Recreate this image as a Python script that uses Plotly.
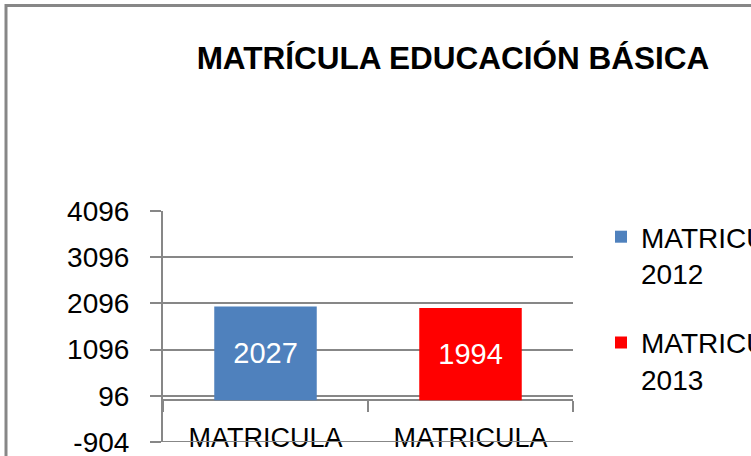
import plotly.graph_objects as go

# ---- data ----
categories = ["MATRICULA<br>2012", "MATRICULA<br>2013"]
series_names = ["MATRICULA<br>2012", "MATRICULA<br>2013"]
values = [2027, 1994]
colors = ["#4F81BD", "#FF0000"]
y_ticks = [-904, 96, 1096, 2096, 3096, 4096]
title_text = "MATRÍCULA EDUCACIÓN BÁSICA"

FONT = "Liberation Sans"
GRAY = "#878787"
W, H = 751, 456
ML, MR, MT, MB = 163, 178, 211, 14
ymin, ymax = y_ticks[0], y_ticks[-1]

fig = go.Figure()
for i in range(len(values)):
    fig.add_trace(go.Bar(
        x=[categories[i]], y=[values[i]], name=series_names[i],
        marker=dict(color=colors[i], line=dict(width=0)),
        width=0.5,
        text=[values[i]], textposition="inside", insidetextanchor="middle",
        textangle=0, constraintext="none",
        textfont=dict(family=FONT, size=29, color="white"),
        legendgroup=f"g{i}",
    ))

plot_h = H - MT - MB
plot_w = W - ML - MR
zero_pos = (0 - ymin) / (ymax - ymin)

fig.update_layout(
    width=W, height=H,
    margin=dict(l=ML, r=MR, t=MT, b=MB, autoexpand=False),
    paper_bgcolor="white", plot_bgcolor="white",
    barmode="overlay",
    font=dict(family=FONT, size=28, color="black"),
    title=dict(text=title_text, x=453 / W, xanchor="center", xref="container",
               y=1 - 58 / H, yanchor="middle", yref="container",
               font=dict(family=FONT, size=31.5, color="black", weight="bold")),
    showlegend=True,
    legend=dict(x=601 / W, xanchor="left", xref="container",
                y=1 - 212 / H, yanchor="top", yref="container",
                traceorder="grouped", tracegroupgap=30, valign="top",
                font=dict(family=FONT, size=28, color="black"),
                bgcolor="rgba(0,0,0,0)"),
    xaxis=dict(
        anchor="free", position=zero_pos,
        range=[-0.5, 1.5], type="category",
        showline=False,
        ticks="outside", tickson="boundaries", ticklen=11, tickwidth=2, tickcolor=GRAY,
        showgrid=False, zeroline=False,
        tickfont=dict(family=FONT, size=27, color="black"),
        ticklabelstandoff=19, ticklabeloverflow="allow",
    ),
    yaxis=dict(
        range=[ymin, ymax], tickvals=y_ticks, ticktext=[str(v) for v in y_ticks],
        showline=True, linecolor=GRAY, linewidth=2,
        ticks="outside", ticklen=11, tickwidth=2, tickcolor=GRAY,
        showgrid=True, gridcolor=GRAY, gridwidth=2,
        zeroline=True, zerolinecolor=GRAY, zerolinewidth=2,
        tickfont=dict(family=FONT, size=28, color="black"),
        ticklabelstandoff=15, ticklabeloverflow="allow",
    ),
)

# bottom gridline (at the lowest tick value), drawn over the category labels
fig.add_shape(type="line", xref="paper", yref="y", x0=0, x1=1, y0=ymin, y1=ymin,
              line=dict(color=GRAY, width=2), layer="above")

# outer chart border (top and left visible; right/bottom cropped)
fig.add_shape(type="rect", xref="paper", yref="paper",
              x0=(6 - ML) / plot_w, x1=(W + 20 - ML) / plot_w,
              y0=(H - MB - (H + 20)) / plot_h, y1=(H - MB - 5.5) / plot_h,
              line=dict(color=GRAY, width=3), fillcolor="rgba(0,0,0,0)", layer="below")

fig.write_html("out.html", config={"displayModeBar": False},
               post_script="document.body.style.margin='0';document.body.style.overflow='hidden';")
